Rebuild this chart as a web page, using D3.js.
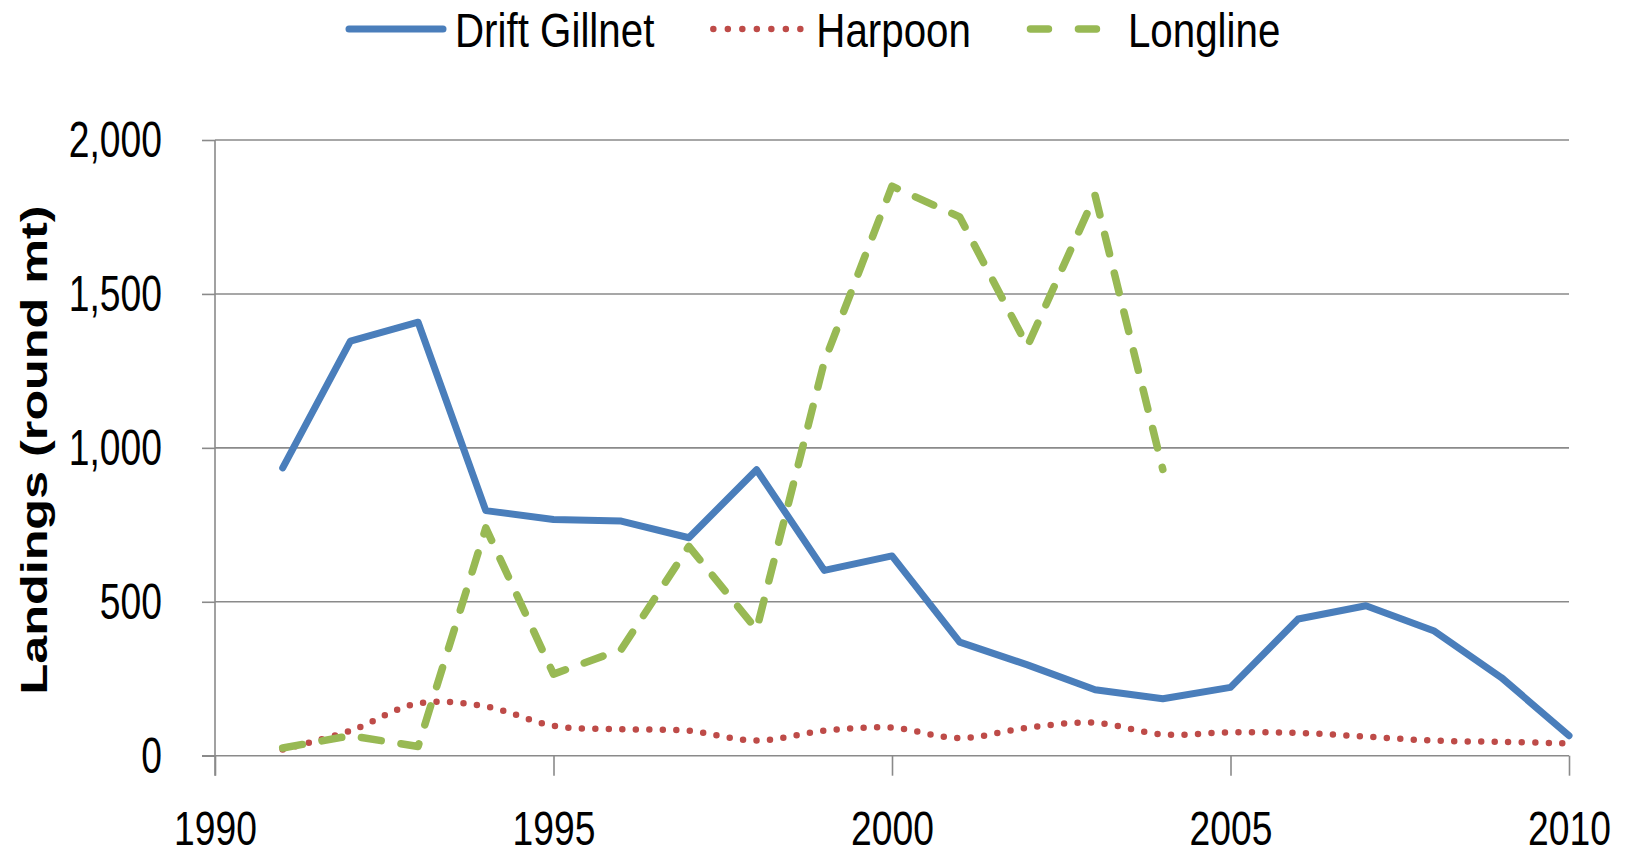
<!DOCTYPE html>
<html>
<head>
<meta charset="utf-8">
<script src="https://cdn.jsdelivr.net/npm/d3@7"></script>
<style>
  html, body { margin: 0; padding: 0; background: #fff; }
  svg { display: block; }
  text { font-family: "Liberation Sans", Arial, sans-serif; fill: #000; }
</style>
</head>
<body>
<svg id="chart" width="1632" height="855"></svg>
<script>
// ---- data ----
const years = [1991,1992,1993,1994,1995,1996,1997,1998,1999,2000,2001,2002,2003,2004,2005,2006,2007,2008,2009,2010];
const driftGillnet = [935,1347,1408,796,767,762,708,929,602,649,369,295,214,185,222,444,487,406,254,65];
const harpoon = [20,81,170,160,97,86,81,49,81,91,57,91,107,69,76,74,62,49,45,40];
const longline = [25,65,30,740,265,345,680,410,1280,1850,1750,1330,1820,930,null,null,null,null,null,null];
const seriesNames = ["Drift Gillnet", "Harpoon", "Longline"];
const yTicks = [0, 500, 1000, 1500, 2000];
const xTicks = [1990, 1995, 2000, 2005, 2010];
const yLabel = "Landings (round mt)";

(function () {
// ---- layout ----
const svg = d3.select("#chart");
const pLeft = 215, pRight = 1569, pTop = 140, pBottom = 755.7;
const x = d3.scaleLinear().domain([1990, 2010]).range([pLeft, pRight]);
const y = d3.scaleLinear().domain([0, 2000]).range([pBottom, pTop]);
const gridColor = "#8a8a8a";

// gridlines
svg.append("g").selectAll("line").data(yTicks.filter(d => d > 0)).join("line")
  .attr("x1", pLeft).attr("x2", pRight)
  .attr("y1", d => y(d)).attr("y2", d => y(d))
  .attr("stroke", gridColor).attr("stroke-width", 1.6);

// y axis
const yAxis = svg.append("g").attr("transform", `translate(${pLeft},0)`)
  .call(d3.axisLeft(y).tickValues(yTicks).tickFormat(d3.format(",")).tickSize(13).tickSizeOuter(0));
yAxis.selectAll("path, line").attr("stroke", gridColor).attr("stroke-width", 1.6);
yAxis.select(".domain").attr("d", `M0,${pTop}V${pBottom + 20}`);
yAxis.selectAll("text")
  .attr("x", 0).attr("dy", "0.33em")
  .attr("transform", "translate(-53,0) scale(0.745,1)")
  .style("font-size", "50px").style("font-family", "'Liberation Sans', Arial, sans-serif")
  .attr("fill", "#000").attr("text-anchor", "end");

// x axis
const xAxis = svg.append("g").attr("transform", `translate(0,${pBottom})`)
  .call(d3.axisBottom(x).tickValues(xTicks).tickFormat(d3.format("d")).tickSize(20).tickSizeOuter(0));
xAxis.selectAll("path, line").attr("stroke", gridColor).attr("stroke-width", 1.6);
xAxis.select(".domain").attr("d", `M${pLeft - 13},0H${pRight}`);
xAxis.selectAll("text")
  .attr("y", 0).attr("dy", 0)
  .attr("transform", "translate(0,89) scale(0.76,1)")
  .style("font-size", "49px").style("font-family", "'Liberation Sans', Arial, sans-serif")
  .attr("fill", "#000").attr("text-anchor", "middle");

// y label
svg.append("text")
  .attr("transform", "translate(47,450) rotate(-90) scale(1.36,1)")
  .attr("text-anchor", "middle")
  .style("font-size", "37px").style("font-weight", "bold")
  .text(yLabel);

// ---- series ----
const styles = [
  { color: "#4A7EBB", width: 7, dash: null },
  { color: "#BE4B48", width: 6.5, dash: "0 13.5" },
  { color: "#98B954", width: 7.5, dash: "20 20" }
];
const allData = [driftGillnet, harpoon, longline];
const curves = [d3.curveLinear, d3.curveCatmullRom.alpha(0.5), d3.curveLinear];

allData.forEach((vals, i) => {
  const pts = years.map((yr, j) => ({ yr, v: vals[j] })).filter(d => d.v != null);
  const line = d3.line().x(d => x(d.yr)).y(d => y(d.v)).curve(curves[i]);
  const p = svg.append("path").datum(pts)
    .attr("d", line)
    .attr("fill", "none")
    .attr("stroke", styles[i].color)
    .attr("stroke-width", styles[i].width)
    .attr("stroke-linecap", "round")
    .attr("stroke-linejoin", "round");
  if (styles[i].dash) p.attr("stroke-dasharray", styles[i].dash);
});

// ---- legend ----
const legY = 29, legBase = 46.5;
const legendDash = [null, "0 14.5", "18 30"];
const textGap = [12, 12, 7];
let cx = 349;
seriesNames.forEach((name, i) => {
  const s = styles[i];
  const sampleLen = 94;
  let x1 = cx, x2 = cx + sampleLen;
  if (i === 1) { x1 = cx + 3; x2 = cx + 91; }
  if (i === 2) { x1 = cx + 3.5; x2 = cx + 69.5; }
  const l = svg.append("line")
    .attr("x1", x1).attr("x2", x2).attr("y1", legY).attr("y2", legY)
    .attr("stroke", s.color).attr("stroke-width", s.width)
    .attr("stroke-linecap", "round");
  if (legendDash[i]) l.attr("stroke-dasharray", legendDash[i]);
  const tx = cx + sampleLen + textGap[i];
  const t = svg.append("text")
    .attr("transform", `translate(${tx},${legBase}) scale(0.84,1)`)
    .style("font-size", "48px")
    .text(name);
  const w = t.node().getComputedTextLength() * 0.84;
  cx = tx + w + 56;
});
})();
</script>
</body>
</html>
